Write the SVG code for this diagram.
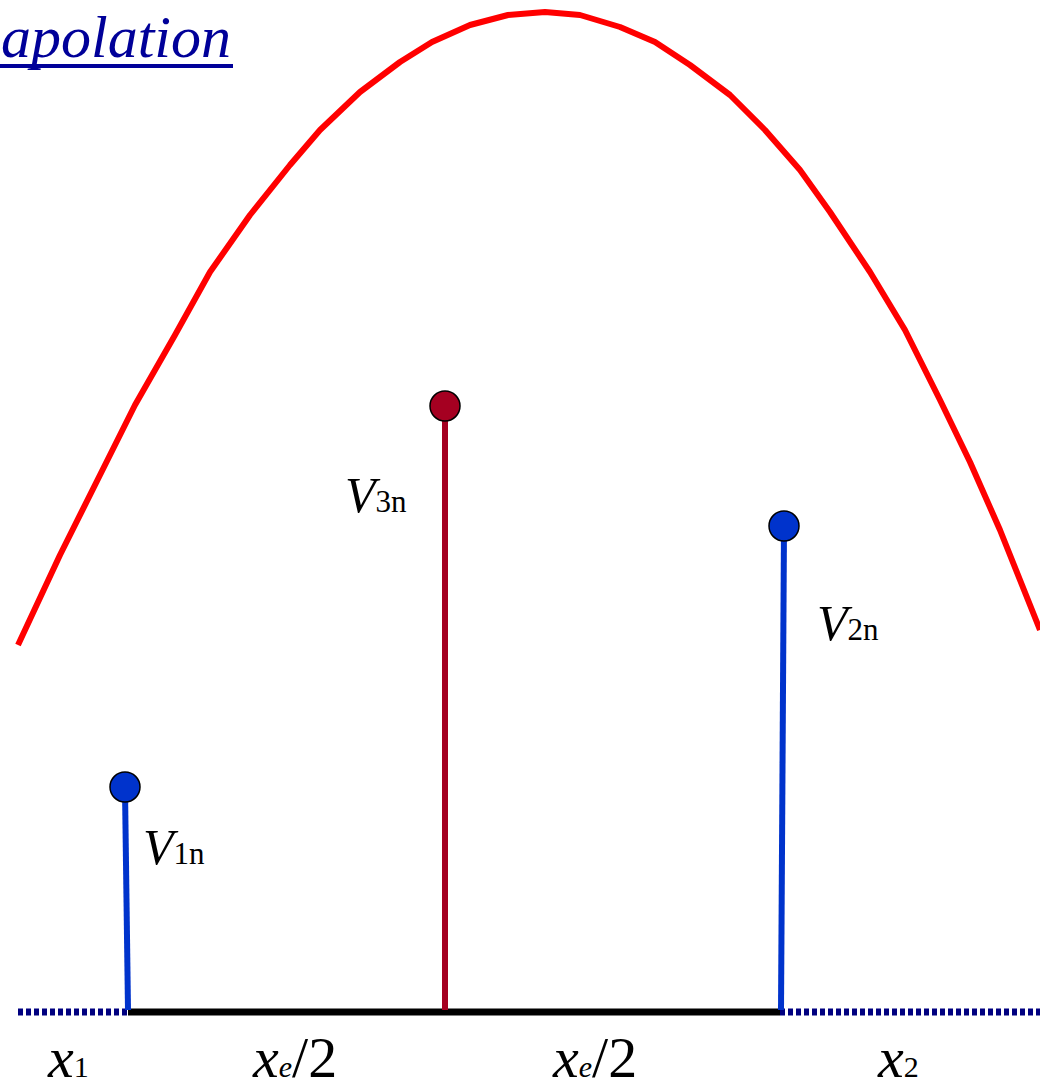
<svg xmlns="http://www.w3.org/2000/svg" width="1040" height="1088" viewBox="0 0 1040 1088">
<style>
.t{font-family:"Liberation Serif","Times New Roman",serif;fill:#000}
.i{font-style:italic}
.title{font-family:"Liberation Serif","Times New Roman",serif;font-style:italic;fill:#000099;font-size:60px}
.blue{stroke:#0033CC;stroke-width:6;fill:none}
.red{stroke:#A50021;stroke-width:6;fill:none}
.dot{stroke:#000;stroke-width:1.5}
</style>
<rect width="1040" height="1088" fill="#fff"/>
<g id="title">
<text class="title" x="1" y="57">apolation</text>
<line x1="0" y1="66" x2="233" y2="66" stroke="#000099" stroke-width="4"/>
</g>
<g id="curve">
<polyline fill="none" stroke="#FF0000" stroke-width="6" stroke-linejoin="round" points="18,645 60,555 100,475 135,405 175,335 210,272 250,215 290,165 320,130 360,92 400,62 432,42 470,25 508,15 545,12 580,15 620,27 655,42 690,65 730,95 765,130 800,170 830,212 870,272 905,330 940,400 970,462 1000,530 1040,630"/>
</g>
<g id="connectors">
<line x1="18" y1="1012" x2="128" y2="1012" stroke="#000080" stroke-width="7" stroke-dasharray="5,3"/>
<line x1="780" y1="1012" x2="1040" y2="1012" stroke="#000080" stroke-width="7" stroke-dasharray="5,3"/>
<line x1="128" y1="1012" x2="780" y2="1012" stroke="#000" stroke-width="7"/>
<line class="blue" x1="125" y1="790" x2="128" y2="1010"/>
<line class="red" x1="445" y1="408" x2="445" y2="1010"/>
<line class="blue" x1="784" y1="528" x2="781" y2="1010"/>
</g>
<g id="V1">
<circle class="dot" cx="125" cy="787" r="15" fill="#0033CC"/>
<text class="t" x="143" y="864" font-size="50"><tspan class="i">V</tspan><tspan font-size="31">1n</tspan></text>
</g>
<g id="V3">
<circle class="dot" cx="445" cy="406" r="15" fill="#A50021"/>
<text class="t" x="345" y="512" font-size="50"><tspan class="i">V</tspan><tspan font-size="31">3n</tspan></text>
</g>
<g id="V2">
<circle class="dot" cx="784" cy="526" r="15" fill="#0033CC"/>
<text class="t" x="817" y="640" font-size="50"><tspan class="i">V</tspan><tspan font-size="31">2n</tspan></text>
</g>
<g id="labels">
<text class="t" x="48" y="1077" font-size="58"><tspan class="i">x</tspan><tspan font-size="30">1</tspan></text>
<text class="t" x="253" y="1077" font-size="58"><tspan class="i">x</tspan><tspan class="i" font-size="30">e</tspan><tspan>/2</tspan></text>
<text class="t" x="553" y="1077" font-size="58"><tspan class="i">x</tspan><tspan class="i" font-size="30">e</tspan><tspan>/2</tspan></text>
<text class="t" x="878" y="1077" font-size="58"><tspan class="i">x</tspan><tspan font-size="30">2</tspan></text>
</g>
</svg>
